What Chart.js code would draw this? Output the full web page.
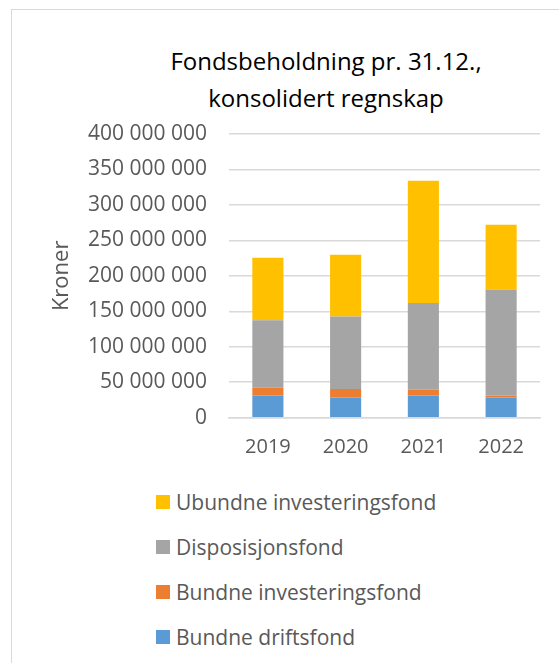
<!DOCTYPE html>
<html>
<head>
<meta charset="utf-8">
<script src="https://cdn.jsdelivr.net/npm/chart.js@4"></script>
<style>
  html, body { margin: 0; padding: 0; background: #fff; }
  body { width: 559px; height: 663px; position: relative; overflow: hidden; font-family: 'Open Sans', sans-serif; }
  #frame { position: absolute; left: 11px; top: 9px; width: 620px; height: 720px; border: 1.5px solid #d9d9d9; }
  #title { position: absolute; left: 126px; width: 400px; top: 42px; text-align: center; font-size: 24px; line-height: 37px; color: #000; }
  #chart-wrap { position: absolute; left: 0; top: 0; width: 559px; height: 480px; }
  #legend { position: absolute; left: 156px; top: 488px; margin: 0; padding: 0; list-style: none; }
  #legend li { height: 45px; line-height: 28px; font-size: 21px; color: #595959; display: flex; align-items: flex-start; }
  #legend .box { width: 14px; height: 14px; margin: 7px 6px 0 0; flex: none; }
</style>
</head>
<body>
<div id="frame"></div>
<div id="title">Fondsbeholdning pr. 31.12.,<br>konsolidert regnskap</div>
<div id="chart-wrap"><canvas id="chart" width="559" height="480"></canvas></div>
<ul id="legend"></ul>
<script>
const YEARS = ['2019', '2020', '2021', '2022'];
const BUNDNE_DRIFTSFOND = [31400000, 28600000, 31400000, 28600000];
const BUNDNE_INVESTERINGSFOND = [10800000, 11700000, 8000000, 2800000];
const DISPOSISJONSFOND = [95200000, 102300000, 122400000, 149200000];
const UBUNDNE_INVESTERINGSFOND = [88200000, 87200000, 172200000, 91400000];
const Y_TICKS = [0, 50000000, 100000000, 150000000, 200000000, 250000000, 300000000, 350000000, 400000000];

const series = [
  { label: 'Bundne driftsfond', data: BUNDNE_DRIFTSFOND, color: '#5b9bd5' },
  { label: 'Bundne investeringsfond', data: BUNDNE_INVESTERINGSFOND, color: '#ed7d31' },
  { label: 'Disposisjonsfond', data: DISPOSISJONSFOND, color: '#a5a5a5' },
  { label: 'Ubundne investeringsfond', data: UBUNDNE_INVESTERINGSFOND, color: '#ffc000' },
];

function formatKr(v) {
  return String(v).replace(/\B(?=(\d{3})+(?!\d))/g, ' ');
}

const font = "'Open Sans', sans-serif";

const chart = new Chart(document.getElementById('chart').getContext('2d'), {
  type: 'bar',
  data: {
    labels: YEARS,
    datasets: series.map((s) => ({
      label: s.label,
      data: s.data,
      backgroundColor: s.color,
      borderWidth: 0,
      barPercentage: 1,
      categoryPercentage: 0.4,
    })),
  },
  options: {
    responsive: false,
    animation: false,
    layout: { padding: { left: 45, right: 19, top: 134, bottom: 0 } },
    plugins: {
      legend: { display: false },
      title: { display: false },
      tooltip: { enabled: false },
    },
    scales: {
      x: {
        stacked: true,
        grid: { display: false, drawTicks: false },
        border: { display: true, color: '#d9d9d9', width: 1.5 },
        ticks: { color: '#595959', font: { family: font, size: 20 }, padding: 18 },
        afterFit: (scale) => { scale.height = 62.3; },
      },
      y: {
        stacked: true,
        min: 0,
        max: 400000000,
        afterBuildTicks: (scale) => { scale.ticks = Y_TICKS.map((value) => ({ value })); },
        grid: { color: '#d9d9d9', lineWidth: 1.5, drawTicks: false },
        border: { display: false },
        ticks: {
          color: '#595959',
          font: { family: font, size: 21 },
          padding: 22,
          callback: (v) => formatKr(v),
        },
        title: {
          display: true,
          text: 'Kroner',
          color: '#595959',
          font: { family: font, size: 22 },
          padding: { top: 4, bottom: 4 },
        },
        afterFit: (scale) => { scale.width = 229 - 45; },
      },
    },
  },
});

const legendEl = document.getElementById('legend');
series.slice().reverse().forEach((s) => {
  const li = document.createElement('li');
  const box = document.createElement('span');
  box.className = 'box';
  box.style.background = s.color;
  li.append(box, document.createTextNode(s.label));
  legendEl.appendChild(li);
});
</script>
</body>
</html>
